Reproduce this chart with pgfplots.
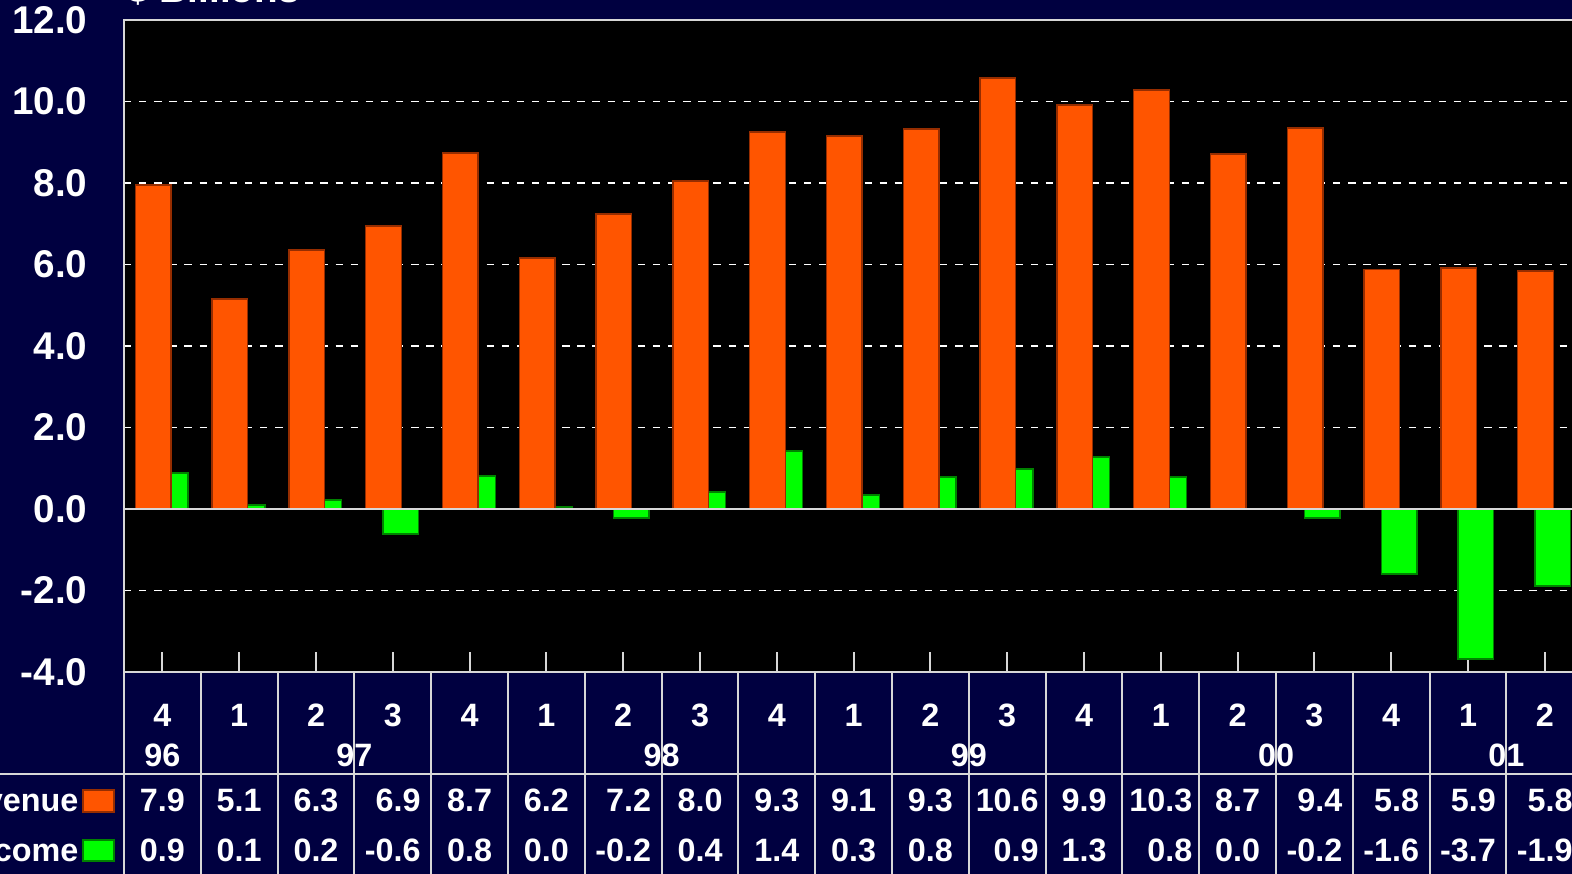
\documentclass[border=0pt]{standalone}
\usepackage{fontspec}
\setmainfont{Liberation Sans}
\usepackage{pgfplots}
\pgfplotsset{compat=1.18}
\definecolor{navy}{RGB}{0,0,64}
\definecolor{rev}{RGB}{255,85,0}
\definecolor{revedge}{RGB}{150,45,0}
\definecolor{inc}{RGB}{0,255,0}
\definecolor{incedge}{RGB}{0,130,0}
\definecolor{lgray}{RGB}{215,215,215}

\begin{document}
\begin{tikzpicture}[x=0.1mm,y=0.1mm]
\fill[navy] (0,0) rectangle (1572,874);
\begin{axis}[
  at={(12.4mm,20.2mm)}, anchor=south west,
  scale only axis, width=145.92mm, height=65.2mm,
  xmin=-0.5, xmax=18.5, ymin=-4, ymax=12,
  axis background/.style={fill=black},
  ytick={-4,-2,0,2,4,6,8,10,12},
  yticklabels={-4.0,-2.0,0.0,2.0,4.0,6.0,8.0,10.0,12.0},
  ymajorgrids,
  grid style={white, line width=0.55pt, dash pattern=on 2.1pt off 2.2pt},
  xtick={0,...,18}, xticklabels={},
  xtick pos=left, ytick pos=left, tick align=inside,
  major tick length=2mm,
  xtick style={lgray, line width=0.6pt},
  ytick style={draw=none},
  axis line style={lgray, line width=0.6pt},
  yticklabel style={anchor=east, inner sep=0pt, xshift=-3.6mm, text=white,
    font=\fontsize{11}{13}\selectfont\bfseries},
]
\addplot[ybar, bar width=0.4635, bar shift=0.103, fill=inc, draw=incedge, line width=0.4pt]
  coordinates {(0,0.88) (1,0.10) (2,0.22) (3,-0.61) (4,0.81) (5,0.05) (6,-0.22) (7,0.42) (8,1.42) (9,0.34) (10,0.79) (11,0.98) (12,1.28) (13,0.79) (14,0.0) (15,-0.22) (16,-1.60) (17,-3.68) (18,-1.89)};
\addplot[ybar, bar width=0.4635, bar shift=-0.120, fill=rev, draw=revedge, line width=0.4pt]
  coordinates {(0,7.95) (1,5.15) (2,6.36) (3,6.94) (4,8.74) (5,6.16) (6,7.24) (7,8.05) (8,9.25) (9,9.15) (10,9.33) (11,10.58) (12,9.91) (13,10.28) (14,8.71) (15,9.35) (16,5.87) (17,5.91) (18,5.84)};
\draw[lgray, line width=0.6pt] (axis cs:-0.5,0) -- (axis cs:18.5,0);
\end{axis}
% title
\node[anchor=base west, inner sep=0pt, text=white, font=\fontsize{11}{13}\selectfont\bfseries] at (127,871.3) {\$ Billions};
% table text
\foreach \q/\r/\n [count=\i from 0] in {4/7.9/0.9, 1/5.1/0.1, 2/6.3/0.2, 3/6.9/-0.6, 4/8.7/0.8, 1/6.2/0.0, 2/7.2/-0.2, 3/8.0/0.4, 4/9.3/1.4, 1/9.1/0.3, 2/9.3/0.8, 3/10.6/0.9, 4/9.9/1.3, 1/10.3/0.8, 2/8.7/0.0, 3/9.4/-0.2, 4/5.8/-1.6, 1/5.9/-3.7, 2/5.8/-1.9} {
  \node[anchor=base, inner sep=0pt, text=white, font=\fontsize{9.2}{11}\selectfont\bfseries] at ({162.4+76.8*\i},147) {\q};
  \node[anchor=base, inner sep=0pt, text=white, font=\fontsize{9.2}{14.23}\selectfont\bfseries] at ({162.4+76.8*\i},12) {\begin{tabular}[b]{@{}r@{}}\r\\\n\end{tabular}};
}
\foreach \yy/\xx in {96/162.4, 97/354.4, 98/661.6, 99/968.8, 00/1276, 01/1506.4}
  \node[anchor=base, inner sep=0pt, text=white, font=\fontsize{9.2}{11}\selectfont\bfseries] at (\xx,107) {\yy};
% table lines
\foreach \k in {0,...,18}
  \draw[lgray, line width=0.6pt] ({124+76.8*\k},0) -- ({124+76.8*\k},202);
\draw[lgray, line width=0.6pt] (0,100) -- (1572,100);
% legend swatches and row labels
\draw[revedge, fill=rev, line width=0.5pt] (83,62) rectangle (114,84);
\draw[incedge, fill=inc, line width=0.5pt] (83,13) rectangle (114,34);
\node[anchor=base east, inner sep=0pt, text=white, font=\fontsize{9.2}{11}\selectfont\bfseries] at (79,62) {Revenue};
\node[anchor=base east, inner sep=0pt, text=white, font=\fontsize{9.2}{11}\selectfont\bfseries] at (79,12) {Income};
\pgfresetboundingbox
\path[use as bounding box] (0,0) rectangle (1572,874);
\end{tikzpicture}
\end{document}
